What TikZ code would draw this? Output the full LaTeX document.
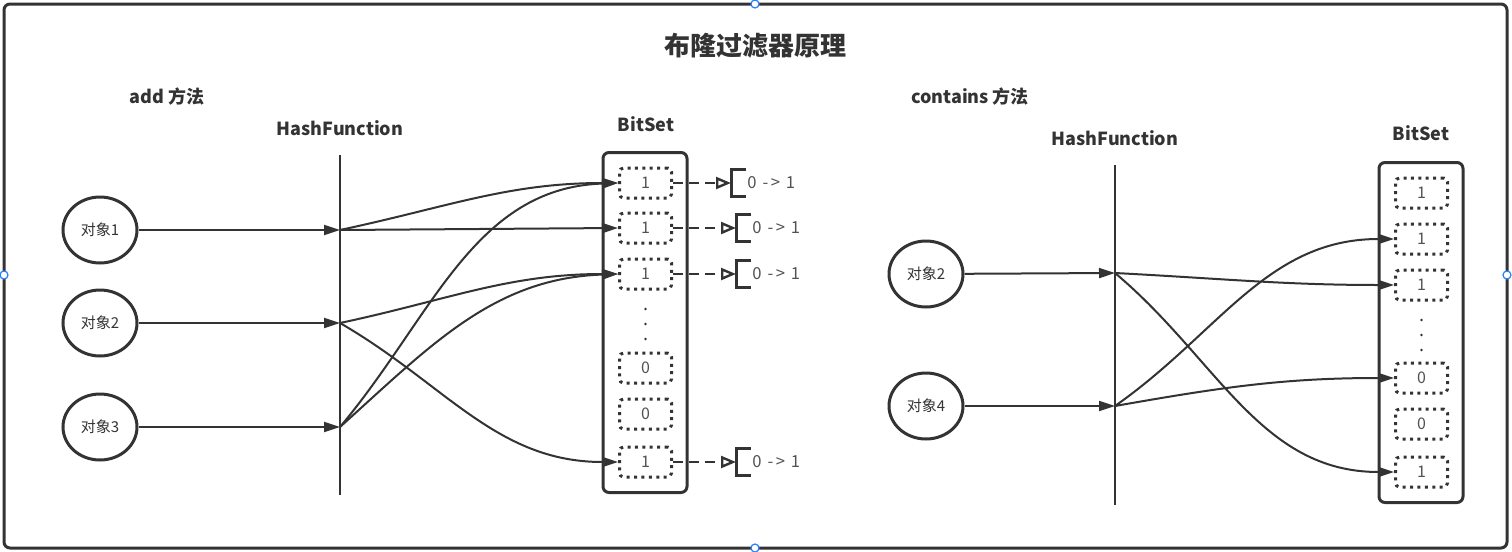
\documentclass[tikz,border=0pt]{standalone}
\usepackage{fontspec}
\setmainfont{Noto Sans CJK SC}
\usetikzlibrary{arrows.meta,shapes.geometric}
\definecolor{ink}{RGB}{51,51,51}
\definecolor{handle}{RGB}{41,128,255}

\tikzset{
  obj/.style={ellipse, draw=ink, line width=1.5pt, minimum width=37pt,
    minimum height=33pt, inner sep=0pt, text=ink,
    font=\fontsize{7.5}{9}\selectfont},
  bit/.style={draw=ink, line width=1.5pt, dash pattern=on 1.5pt off 2.2pt,
    rounded corners=2pt, minimum width=26pt, minimum height=15pt,
    inner sep=0pt, text=ink!85, font=\fontsize{8}{9}\selectfont},
  setbox/.style={draw=ink, line width=1.5pt, rounded corners=3pt,
    minimum width=42pt, minimum height=170pt, inner sep=0pt},
  head/.style={text=ink, font=\fontsize{9}{10}\selectfont\bfseries},
  link/.style={draw=ink, line width=1pt, -{Triangle[length=8pt,width=5pt]}},
  flip/.style={draw=ink, line width=1.2pt, dash pattern=on 5pt off 3pt,
    -{Triangle[open,length=7.5pt,width=6pt,line width=1.2pt]}},
  flag/.style={anchor=west, inner xsep=8pt, inner ysep=0pt,
    minimum height=13pt, text=ink!85, font=\fontsize{8.3}{9}\selectfont},
  brk/.style={draw=ink, line width=1.5pt},
  hashline/.style={draw=ink, line width=1pt},
  grip/.style={circle, draw=handle, fill=white, line width=0.6pt,
    minimum size=4pt, inner sep=0pt},
}
\newcommand{\flipbit}{0\hspace{3pt}-\hspace{1.2pt}>\hspace{3pt}1}

\begin{document}
\begin{tikzpicture}[x=0.5pt,y=-0.5pt]
\useasboundingbox (0,0) rectangle (1512,552);
% outer frame and title
\draw[ink, line width=1.5pt, rounded corners=3pt] (4,4) rectangle (1507,548);
\node[text=ink, font=\fontsize{13}{15}\selectfont\bfseries] (title) at (755,46) {布隆过滤器原理};

% ---- add 方法 ----
\node[head] (addt) at (167,97) {add 方法};
\node[head] (hfa) at (340,128) {HashFunction};
\draw[hashline] (340,155) -- (340,495);
\coordinate (ha1) at (340,230);
\coordinate (ha2) at (340,323);
\coordinate (ha3) at (340,427);

\node[obj] (ob1) at (100,230) {对象1};
\node[obj] (ob2) at (100,323) {对象2};
\node[obj] (ob3) at (100,427) {对象3};
\draw[link] (ob1) -- (ha1);
\draw[link] (ob2) -- (ha2);
\draw[link] (ob3) -- (ha3);

\node[head] (bsa) at (646,124) {BitSet};
\node[setbox] (lset) at (645,322.5) {};
\foreach \n/\y/\v in {1/183/1, 2/228/1, 3/274/1, 4/368/0, 5/414/0, 6/462/1}
  \node[bit] (lc\n) at (645.5,\y) {\v};
\foreach \y in {309,324,339}
  \fill[ink] (645.5,\y) circle (0.7pt);

\draw[link] (ha1) to[out=12,in=180] (lc1.west);
\draw[link] (ha1) -- (lc2.west);
\draw[link] (ha2) to[out=12,in=180] (lc3.west);
\draw[link] (ha2) to[out=-30,in=180] (lc6.west);
\draw[link] (ha3) to[out=50,in=182] (lc1.west);
\draw[link] (ha3) to[out=42,in=182] (lc3.west);

% set bits 0 -> 1
\foreach \n/\dx in {1/29, 2/31.5, 3/31.5, 6/31.5} {
  \node[flag] (f\n) at ([xshift=\dx pt]lc\n.east) {\flipbit};
  \draw[brk] ([xshift=7.5pt]f\n.north west) -| (f\n.south west) -- ++(15,0);
  \draw[flip] (lc\n.east) -- (f\n.west);
}

% ---- contains 方法 ----
\node[head] (cont) at (970,97) {contains 方法};
\node[head] (hfc) at (1115,138) {HashFunction};
\draw[hashline] (1115,165) -- (1115,505);
\coordinate (hc2) at (1115,273);
\coordinate (hc4) at (1115,406);

\node[obj] (oc2) at (926,274) {对象2};
\node[obj] (oc4) at (926,406) {对象4};
\draw[link] (oc2) -- (hc2);
\draw[link] (oc4) -- (hc4);

\node[head] (bsc) at (1421,133) {BitSet};
\node[setbox] (rset) at (1421,332.5) {};
\foreach \n/\y/\v in {1/193/1, 2/239/1, 3/285/1, 4/378/0, 5/424/0, 6/472/1}
  \node[bit] (rc\n) at (1421.5,\y) {\v};
\foreach \y in {320,335,350}
  \fill[ink] (1421.5,\y) circle (0.7pt);

\draw[link] (hc2) to[out=-3,in=180] (rc3.west);
\draw[link] (hc2) to[out=-40,in=180] (rc6.west);
\draw[link] (hc4) to[out=35,in=180] (rc2.west);
\draw[link] (hc4) to[out=10,in=180] (rc4.west);

% selection handles
\node[grip] (g1) at (755,4) {};
\node[grip] (g2) at (4,275) {};
\node[grip] (g3) at (1507,275) {};
\node[grip] (g4) at (755,548) {};
\end{tikzpicture}
\end{document}
